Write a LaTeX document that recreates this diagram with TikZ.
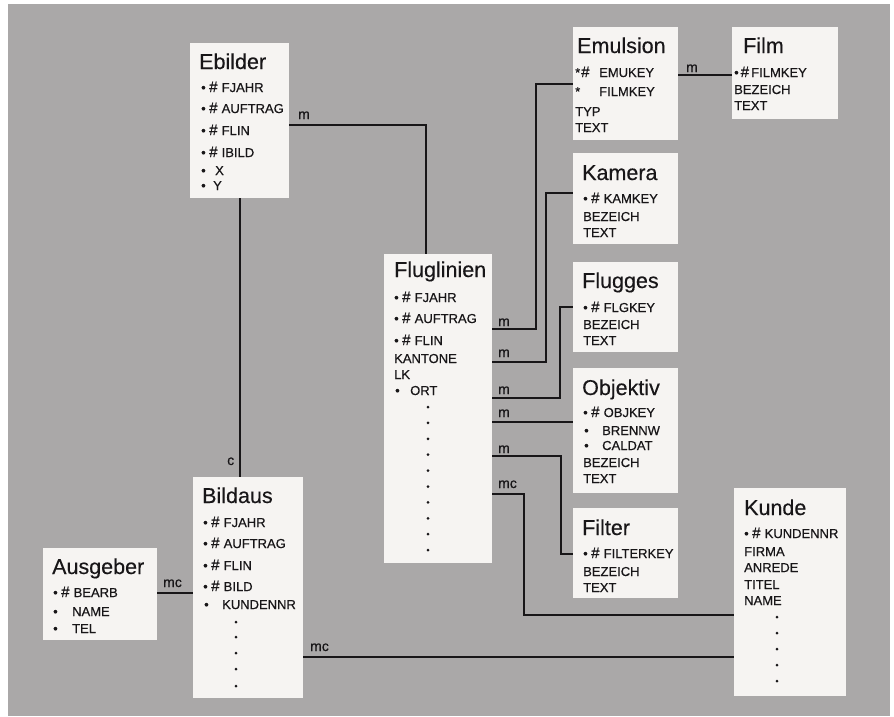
\documentclass[tikz,border=0pt]{standalone}
\usepackage{fontspec}
\setmainfont{Liberation Sans}
\newfontfamily\attrfont[FakeBold=0.5]{Liberation Sans}
\newfontfamily\titlefont[FakeBold=0.3]{Liberation Sans}
\definecolor{bg}{RGB}{170,168,168}
\definecolor{boxfill}{RGB}{246,244,242}
\definecolor{ink}{RGB}{24,22,24}
\newcommand\Hs{{\fontsize{15}{15}\selectfont\#}}
\newcommand\Kk[1]{\makebox[8pt][l]{•}\makebox[12.5pt][l]{\Hs}#1}
\newcommand\Bb[2]{\makebox[#1][l]{•}#2}
\begin{document}
\begin{tikzpicture}[x=1pt,y=-1pt,
  box/.style={fill=boxfill,draw=none,inner sep=0pt,anchor=north west},
  title/.style={anchor=base west,inner sep=0pt,text=ink,font=\titlefont\fontsize{21.5}{24}\selectfont},
  attr/.style={anchor=base west,inner sep=0pt,text=ink,font=\attrfont\fontsize{13}{15}\selectfont},
  lab/.style={anchor=base west,inner sep=0pt,text=ink,font=\attrfont\fontsize{14}{15}\selectfont},
  conn/.style={draw=ink,line width=1.5pt},
  dot/.style={fill=ink}]
\useasboundingbox (0,0) rectangle (894,716);
\fill[white] (0,0) rectangle (894,716);
\fill[bg] (8,4) rectangle (890,716);
% boxes
\node[box,minimum width=99pt,minimum height=155pt] (ebilder) at (190,43) {};
\node[box,minimum width=105pt,minimum height=113pt] (emulsion) at (573,27) {};
\node[box,minimum width=106pt,minimum height=92pt] (film) at (732,27) {};
\node[box,minimum width=105pt,minimum height=91pt] (kamera) at (573,153) {};
\node[box,minimum width=105pt,minimum height=90pt] (flugges) at (573,262) {};
\node[box,minimum width=105pt,minimum height=125pt] (objektiv) at (573,368) {};
\node[box,minimum width=105pt,minimum height=90pt] (filter) at (573,508) {};
\node[box,minimum width=108pt,minimum height=309pt] (flug) at (384,254) {};
\node[box,minimum width=110pt,minimum height=221pt] (bildaus) at (193,477) {};
\node[box,minimum width=114pt,minimum height=92pt] (ausgeber) at (43,548) {};
\node[box,minimum width=112pt,minimum height=208pt] (kunde) at (734,488) {};
% connectors
\draw[conn] (ebilder.east |- 0,125) -| (426,0 |- flug.north);
\draw[conn] (240,0 |- ebilder.south) -- (240,0 |- bildaus.north);
\draw[conn] (emulsion.east |- 0,75) -- (film.west |- 0,75);
\draw[conn] (flug.east |- 0,329) -| (536,84) -- (emulsion.west |- 0,84);
\draw[conn] (flug.east |- 0,362) -| (546,193) -- (kamera.west |- 0,193);
\draw[conn] (flug.east |- 0,398) -| (560,307) -- (flugges.west |- 0,307);
\draw[conn] (flug.east |- 0,422) -- (objektiv.west |- 0,422);
\draw[conn] (flug.east |- 0,456) -| (561,554) -- (filter.west |- 0,554);
\draw[conn] (flug.east |- 0,494) -| (524,615) -- (kunde.west |- 0,615);
\draw[conn] (bildaus.east |- 0,657) -- (kunde.west |- 0,657);
\draw[conn] (ausgeber.east |- 0,593) -- (bildaus.west |- 0,593);
% labels
\node[lab] (l1) at (298,119) {m};
\node[lab] (l2) at (686,72) {m};
\node[lab] (l3) at (498,326) {m};
\node[lab] (l4) at (498,357) {m};
\node[lab] (l5) at (498,394) {m};
\node[lab] (l6) at (498,417) {m};
\node[lab] (l7) at (498,453) {m};
\node[lab] (l8) at (498,488) {mc};
\node[lab] (l9) at (227,465) {c};
\node[lab] (l10) at (163,587) {mc};
\node[lab] (l11) at (310,651) {mc};
% Ebilder
\node[title] (t1) at (199,69) {Ebilder};
\node[attr] (e1) at (201,92) {\Kk{FJAHR}};
\node[attr] (e2) at (201,113) {\Kk{AUFTRAG}};
\node[attr] (e3) at (201,135) {\Kk{FLIN}};
\node[attr] (e4) at (201,157) {\Kk{IBILD}};
\node[attr] (e5) at (201,175) {\Bb{14pt}{X}};
\node[attr] (e6) at (201,190) {\Bb{12pt}{Y}};
% Emulsion
\node[title] (t2) at (577,53) {Emulsion};
\node[attr] (m1) at (575,77) {\makebox[6pt][l]{*}\makebox[18pt][l]{\Hs}EMUKEY};
\node[attr] (m2) at (575,96) {\makebox[24pt][l]{*}FILMKEY};
\node[attr] (m3) at (575,116) {TYP};
\node[attr] (m4) at (575,132) {TEXT};
% Film
\node[title] (t3) at (743,53) {Film};
\node[attr] (f1) at (734,77) {\makebox[6.5pt][l]{•}\makebox[10.5pt][l]{\Hs}FILMKEY};
\node[attr] (f2) at (734,94) {BEZEICH};
\node[attr] (f3) at (734,110) {TEXT};
% Kamera
\node[title] (t4) at (582,180) {Kamera};
\node[attr] (k1) at (583,203) {\Kk{KAMKEY}};
\node[attr] (k2) at (583,221) {BEZEICH};
\node[attr] (k3) at (583,237) {TEXT};
% Flugges
\node[title] (t5) at (582,288) {Flugges};
\node[attr] (g1) at (583,312) {\Kk{FLGKEY}};
\node[attr] (g2) at (583,329) {BEZEICH};
\node[attr] (g3) at (583,345) {TEXT};
% Objektiv
\node[title] (t6) at (582,395) {Objektiv};
\node[attr] (o1) at (583,417) {\Kk{OBJKEY}};
\node[attr] (o2) at (584,435) {\Bb{18pt}{BRENNW}};
\node[attr] (o3) at (584,450) {\Bb{18pt}{CALDAT}};
\node[attr] (o4) at (583,467) {BEZEICH};
\node[attr] (o5) at (583,483) {TEXT};
% Filter
\node[title] (t7) at (582,535) {Filter};
\node[attr] (r1) at (583,558) {\Kk{FILTERKEY}};
\node[attr] (r2) at (583,576) {BEZEICH};
\node[attr] (r3) at (583,592) {TEXT};
% Fluglinien
\node[title] (t8) at (394,277) {Fluglinien};
\node[attr] (u1) at (394,302) {\Kk{FJAHR}};
\node[attr] (u2) at (394,323) {\Kk{AUFTRAG}};
\node[attr] (u3) at (394,345) {\Kk{FLIN}};
\node[attr] (u4) at (394,363) {KANTONE};
\node[attr] (u5) at (394,379) {LK};
\node[attr] (u6) at (395,395) {\Bb{15pt}{ORT}};
\foreach \k in {0,...,9} \fill[dot] (428,407+15.9*\k) circle (1.5pt);
% Bildaus
\node[title] (t9) at (202,503) {Bildaus};
\node[attr] (b1) at (203,527) {\Kk{FJAHR}};
\node[attr] (b2) at (203,548) {\Kk{AUFTRAG}};
\node[attr] (b3) at (203,570) {\Kk{FLIN}};
\node[attr] (b4) at (203,591) {\Kk{BILD}};
\node[attr] (b5) at (204,609) {\Bb{18pt}{KUNDENNR}};
\foreach \yy in {622,637,653,669,686} \fill[dot] (236,\yy) circle (1.5pt);
% Ausgeber
\node[title] (t10) at (52,574) {Ausgeber};
\node[attr] (a1) at (53,597) {\Kk{BEARB}};
\node[attr] (a2) at (53,616) {\Bb{19pt}{NAME}};
\node[attr] (a3) at (53,633) {\Bb{19pt}{TEL}};
% Kunde
\node[title] (t11) at (744,515) {Kunde};
\node[attr] (n1) at (744,538) {\Kk{KUNDENNR}};
\node[attr] (n2) at (744,556) {FIRMA};
\node[attr] (n3) at (744,572) {ANREDE};
\node[attr] (n4) at (744,589) {TITEL};
\node[attr] (n5) at (744,605) {NAME};
\foreach \yy in {617,633,649,665,681} \fill[dot] (777,\yy) circle (1.5pt);
\end{tikzpicture}
\end{document}
